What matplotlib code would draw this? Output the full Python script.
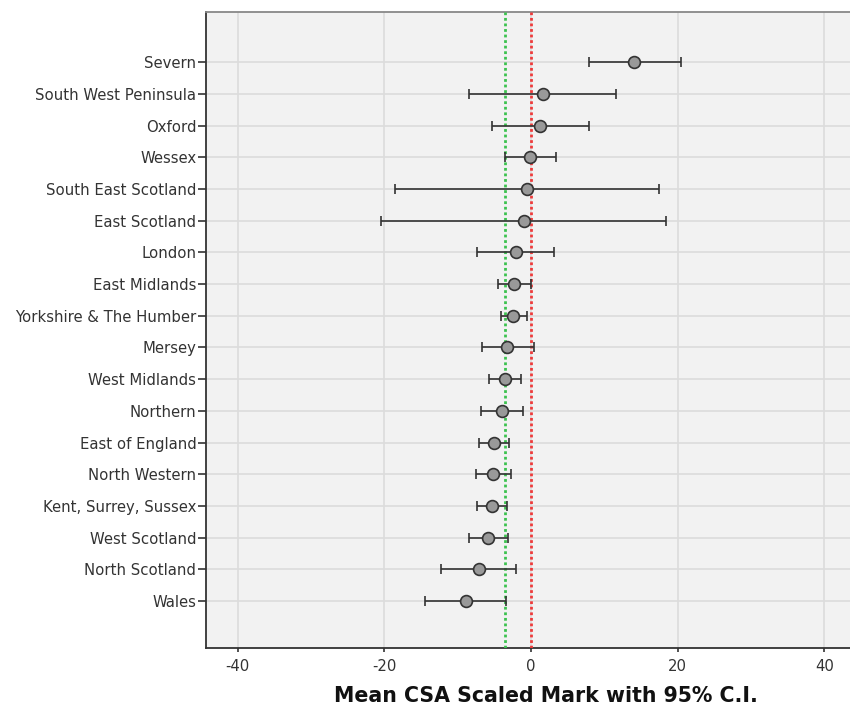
import matplotlib.pyplot as plt
import numpy as np

regions = ['Severn', 'South West Peninsula', 'Oxford', 'Wessex',
           'South East Scotland', 'East Scotland', 'London', 'East Midlands',
           'Yorkshire & The Humber', 'Mersey', 'West Midlands', 'Northern',
           'East of England', 'North Western', 'Kent, Surrey, Sussex',
           'West Scotland', 'North Scotland', 'Wales']
means = [14.1, 1.6, 1.25, -0.1, -0.6, -0.95, -2.1, -2.25, -2.4, -3.2,
         -3.55, -3.95, -5.0, -5.2, -5.25, -5.8, -7.1, -8.85]
lower = [7.9, -8.5, -5.3, -3.55, -18.6, -20.4, -7.4, -4.55, -4.1, -6.7,
         -5.7, -6.8, -7.05, -7.5, -7.4, -8.5, -12.2, -14.4]
upper = [20.5, 11.6, 7.9, 3.35, 17.5, 18.4, 3.1, -0.05, -0.55, 0.35,
         -1.3, -1.05, -2.95, -2.75, -3.3, -3.1, -2.1, -3.4]
overall_mean = -3.56
zero_line = 0

fig = plt.figure(figsize=(8.5, 7.13), dpi=100)
ax = fig.add_axes([0.2424, 0.0912, 0.7576, 0.8918])
ax.set_facecolor('#f2f2f2')

n = len(regions)
ypos = np.arange(n)[::-1]
means = np.array(means)
xerr = [means - np.array(lower), np.array(upper) - means]

ax.axvline(overall_mean, color='#3cc24f', ls=(0, (1.0, 1.0)), lw=2, zorder=3)
ax.axvline(zero_line, color='#ee3b3b', ls=(0, (1.0, 1.0)), lw=2, zorder=3)

ax.errorbar(means, ypos, xerr=xerr, fmt='o', color='#333333', ecolor='#333333',
            elinewidth=1.2, capsize=3.5, capthick=1.2, markersize=8.5,
            markerfacecolor='#999999', markeredgecolor='#333333',
            markeredgewidth=1.2, zorder=4)

ax.set_xlim(-44.3, 43.5)
ax.set_ylim(-1.48, n - 1 + 1.58)
ax.set_xticks([-40, -20, 0, 20, 40])
ax.set_xticklabels(['-40', '-20', '0', '20', '40'])
ax.set_yticks(ypos)
ax.set_yticklabels(regions)

ax.grid(True, color='#dcdcdc', lw=1.2, zorder=0)
ax.set_axisbelow(True)

ax.tick_params(axis='y', length=6, width=1.2, color='#333333',
               labelsize=10.7, labelcolor='#333333', pad=1)
ax.tick_params(axis='x', length=3, width=1.2, color='#333333',
               labelsize=10.7, labelcolor='#333333', pad=5)
for lab in ax.get_yticklabels() + ax.get_xticklabels():
    lab.set_family('DejaVu Sans')

ax.spines['left'].set_color('#333333')
ax.spines['left'].set_linewidth(1.3)
ax.spines['bottom'].set_color('#333333')
ax.spines['bottom'].set_linewidth(1.3)
ax.spines['top'].set_color('#888888')
ax.spines['top'].set_linewidth(1.3)
ax.spines['right'].set_visible(False)

ax.set_xlabel('Mean CSA Scaled Mark with 95% C.I.', fontsize=14.8,
              fontweight='bold', family='DejaVu Sans', color='#111111')
# label sits a little right of centre in the original (axes runs past the edge)
ax.xaxis.set_label_coords(0.528, -0.06)

fig.savefig('out.png', dpi=100)
